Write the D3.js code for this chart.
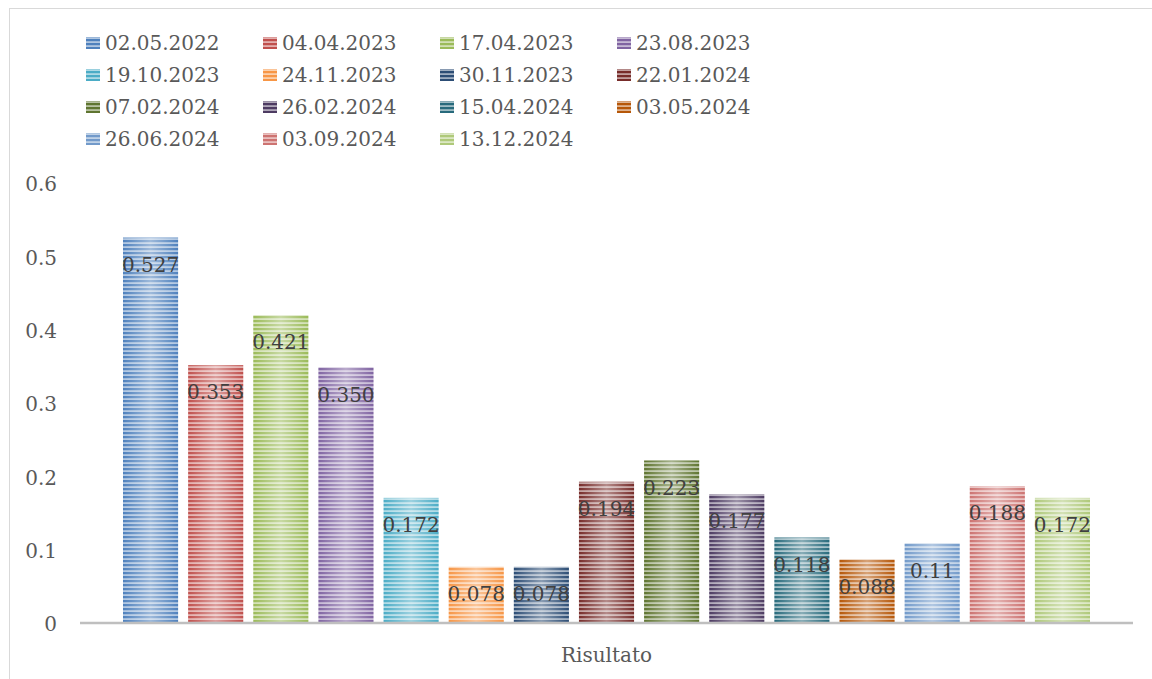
<!DOCTYPE html>
<html lang="it">
<head>
    <meta charset="UTF-8">
    <title>Risultato</title>
    <script src="https://d3js.org/d3.v7.min.js"></script>
    <style>
        body { margin: 0; background: #fff; }
        svg text { font-family: "DejaVu Serif", serif; }
    </style>
</head>
<body>
<div id="chart"></div>
<script>
    // dati
    const dates = ["02.05.2022", "04.04.2023", "17.04.2023", "23.08.2023", "19.10.2023",
                   "24.11.2023", "30.11.2023", "22.01.2024", "07.02.2024", "26.02.2024",
                   "15.04.2024", "03.05.2024", "26.06.2024", "03.09.2024", "13.12.2024"];
    const values = [0.527, 0.353, 0.421, 0.350, 0.172, 0.078, 0.078, 0.194,
                    0.223, 0.177, 0.118, 0.088, 0.11, 0.188, 0.172];
    const valueLabels = ["0.527", "0.353", "0.421", "0.350", "0.172", "0.078", "0.078", "0.194",
                         "0.223", "0.177", "0.118", "0.088", "0.11", "0.188", "0.172"];
    const colors = ["#4F81BD", "#C0504D", "#9BBB59", "#8064A2", "#4BACC6", "#F79646",
                    "#2C4D75", "#772C2A", "#5F7530", "#4D3B62", "#276A7C", "#B65708",
                    "#729ACA", "#CD7371", "#AFC97A"];
    const yTicks = [0, 0.1, 0.2, 0.3, 0.4, 0.5, 0.6];
    const category = ["Risultato"];

    const width = 1152, height = 679;
    const plot = {left: 80, right: 1133, top: 184, bottom: 624};
    const fontSize = "20px";

    const svg = d3.select("#chart").append("svg")
        .attr("width", width)
        .attr("height", height);

    const defs = svg.append("defs");

    // riquadro esterno
    svg.append("rect")
        .attr("x", 9.5).attr("y", 8.5)
        .attr("width", 1160).attr("height", 700)
        .attr("fill", "none")
        .attr("stroke", "#d9d9d9")
        .attr("stroke-width", 1);

    const x0 = d3.scaleBand().domain(category).range([plot.left, plot.right]).padding(0);
    const x1 = d3.scaleBand().domain(dates)
        .range([43, x0.bandwidth() - 43])
        .paddingInner(10 / 65).paddingOuter(0);
    const y = d3.scaleLinear().domain([0, 0.6]).range([plot.bottom, plot.top]);

    // pattern a righe orizzontali per ogni serie
    colors.forEach((c, i) => {
        const light = d3.interpolateRgb(c, "#ffffff")(0.55);
        const p = defs.append("pattern")
            .attr("id", "stripe" + i)
            .attr("patternUnits", "userSpaceOnUse")
            .attr("width", 8).attr("height", 4);
        p.append("rect").attr("width", 8).attr("height", 4).attr("fill", light);
        p.append("rect").attr("y", 0).attr("width", 8).attr("height", 2.2).attr("fill", c);
    });

    const shine = defs.append("linearGradient")
        .attr("id", "shine")
        .attr("x1", "0%").attr("x2", "100%").attr("y1", "0%").attr("y2", "0%");
    shine.append("stop").attr("offset", "0%").attr("stop-color", "#fff").attr("stop-opacity", 0);
    shine.append("stop").attr("offset", "50%").attr("stop-color", "#fff").attr("stop-opacity", 0.45);
    shine.append("stop").attr("offset", "100%").attr("stop-color", "#fff").attr("stop-opacity", 0);

    // asse y
    svg.append("g")
        .selectAll("text")
        .data(yTicks)
        .enter().append("text")
        .attr("x", 57)
        .attr("y", d => y(d))
        .attr("dy", "0.36em")
        .attr("text-anchor", "end")
        .attr("fill", "#595959")
        .style("font-size", fontSize)
        .text(d => d3.format("")(+d.toFixed(1)));

    const g = svg.append("g").attr("transform", `translate(${x0("Risultato")},0)`);

    const data = dates.map((d, i) => ({date: d, value: values[i], label: valueLabels[i], i: i}));

    g.selectAll(".bar")
        .data(data)
        .enter().append("rect")
        .attr("class", "bar")
        .attr("x", d => x1(d.date))
        .attr("y", d => y(d.value))
        .attr("width", x1.bandwidth())
        .attr("height", d => plot.bottom - y(d.value))
        .attr("fill", d => `url(#stripe${d.i})`);

    g.selectAll(".shine")
        .data(data)
        .enter().append("rect")
        .attr("class", "shine")
        .attr("x", d => x1(d.date))
        .attr("y", d => y(d.value))
        .attr("width", x1.bandwidth())
        .attr("height", d => plot.bottom - y(d.value))
        .attr("fill", "url(#shine)");

    // asse x
    svg.append("line")
        .attr("x1", plot.left).attr("x2", plot.right)
        .attr("y1", 623).attr("y2", 623)
        .attr("stroke", "#bfbfbf")
        .attr("stroke-width", 2.5);

    g.selectAll(".lbl")
        .data(data)
        .enter().append("text")
        .attr("class", "lbl")
        .attr("x", d => x1(d.date) + x1.bandwidth() / 2)
        .attr("y", d => y(d.value) + 27)
        .attr("dy", "0.36em")
        .attr("text-anchor", "middle")
        .attr("fill", "#404040")
        .style("font-size", fontSize)
        .text(d => d.label);

    svg.append("text")
        .attr("x", x0("Risultato") + x0.bandwidth() / 2)
        .attr("y", 655)
        .attr("dy", "0.36em")
        .attr("text-anchor", "middle")
        .attr("fill", "#595959")
        .style("font-size", fontSize)
        .text(category[0]);

    // legenda
    const legend = svg.append("g");
    const item = legend.selectAll(".item")
        .data(data)
        .enter().append("g")
        .attr("class", "item")
        .attr("transform", d => `translate(${86 + (d.i % 4) * 177},${43 + Math.floor(d.i / 4) * 32})`);

    item.append("rect")
        .attr("x", 0).attr("y", -6)
        .attr("width", 14).attr("height", 12)
        .attr("fill", d => `url(#stripe${d.i})`);

    item.append("text")
        .attr("x", 19)
        .attr("y", 0)
        .attr("dy", "0.36em")
        .attr("fill", "#595959")
        .style("font-size", fontSize)
        .text(d => d.date);
</script>
</body>
</html>
